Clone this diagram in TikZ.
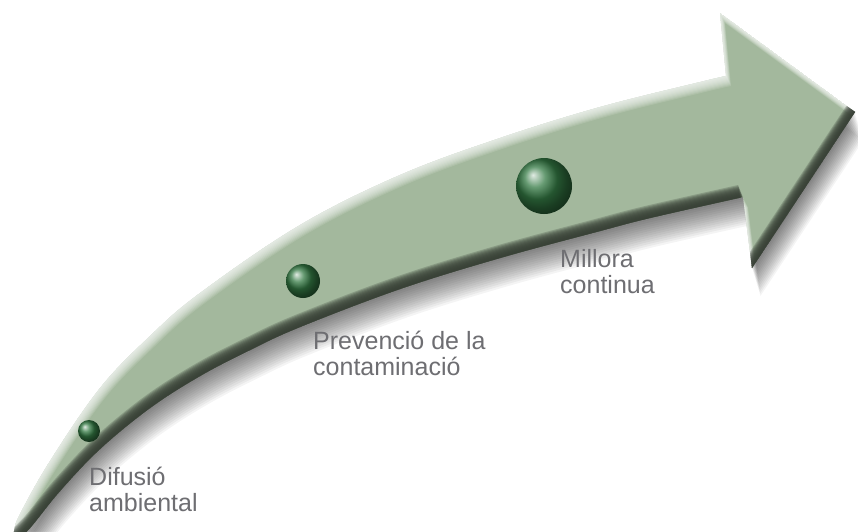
\documentclass[tikz,border=0pt]{standalone}
\usepackage{fontspec}
\setmainfont{Liberation Sans}
\definecolor{sage}{RGB}{163,184,157}
\definecolor{sagedark}{RGB}{56,64,54}
\definecolor{labelgray}{RGB}{110,110,114}
\definecolor{ballgreen}{RGB}{52,122,68}
\newcommand\Apath[2]{plot[smooth,tension=0.6] coordinates {(12+#1,545+#2) (14+#1,531+#2) (20+#1,514+#2) (50+#1,461+#2) (100+#1,388+#2) (150+#1,336+#2) (200+#1,293+#2) (300+#1,225+#2) (400+#1,175+#2) (500+#1,138+#2) (600+#1,107+#2) (700+#1,82+#2) (726+#1,76+#2)}
 -- (720+#1,13+#2) -- (855+#1,112+#2) -- (752+#1,268+#2) -- (743+#1,197+#2)
 -- plot[smooth,tension=0.6] coordinates {(743+#1,197+#2) (650+#1,218+#2) (600+#1,231+#2) (500+#1,258+#2) (400+#1,289+#2) (300+#1,327+#2) (250+#1,350+#2) (200+#1,376+#2) (150+#1,408+#2) (100+#1,449+#2) (60+#1,491+#2) (30+#1,528+#2) (12+#1,545+#2)} -- cycle}
\begin{document}
\begin{tikzpicture}[x=1pt,y=-1pt,
  stagelabel/.style={font=\fontsize{25}{26}\selectfont, text=labelgray, align=left, anchor=base west, inner sep=0pt},
  stageball/.style={circle, shading=ball, ball color=ballgreen, inner sep=0pt}]
\useasboundingbox (0,0) rectangle (858,531);
\fill[white] (0,0) rectangle (858,531);
% drop shadow: stacked shifted copies fade out below the arrow
\foreach \k in {2,4,...,28}
  \fill[black, opacity=0.045] \Apath{0.3*\k}{\k};
% arrow body
\begin{scope}
  \clip \Apath{0}{0};
  \fill[sage] \Apath{0}{0};
  % light rim on upper edges
  \foreach \k in {1,2,...,10}
    \fill[white, opacity=0.12, even odd rule] (-60,-60) rectangle (950,650) \Apath{0.5*\k}{\k};
  % dark rim on lower edges
  \foreach \k in {1,2,...,12}
    \fill[sagedark, opacity=0.25, even odd rule] (-60,-60) rectangle (950,650) \Apath{-0.4*\k}{-\k};
\end{scope}
% stage balls
\node[stageball, minimum size=22pt] (b1) at (89,431) {};
\node[stageball, minimum size=34pt] (b2) at (303,281) {};
\node[stageball, minimum size=56pt] (b3) at (544,186) {};
% labels (anchor is the baseline of the last line)
\node[stagelabel] (t1) at (89,511) {Difusió\\ambiental};
\node[stagelabel] (t2) at (313,375) {Prevenció de la\\contaminació};
\node[stagelabel] (t3) at (560,293) {Millora\\continua};
\end{tikzpicture}
\end{document}
